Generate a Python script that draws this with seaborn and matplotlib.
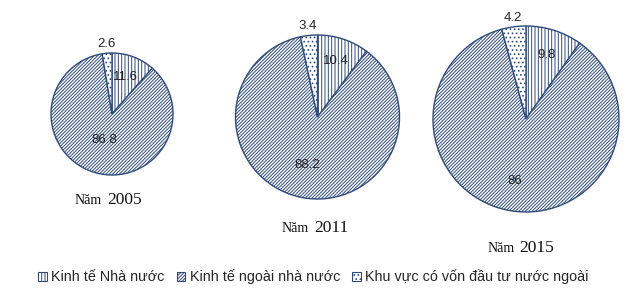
import numpy as np
import matplotlib
matplotlib.use("Agg")
import matplotlib.pyplot as plt
from matplotlib.patches import Patch
import seaborn as sns

# ---- data ----
categories = ["Kinh tế Nhà nước", "Kinh tế ngoài nhà nước", "Khu vực có vốn đầu tư nước ngoài"]
years = ["2005", "2011", "2015"]
values_2005 = [11.6, 86.8, 2.6]
values_2011 = [10.4, 88.2, 3.4]
values_2015 = [9.8, 86, 4.2]
value_labels_2005 = ["11.6", "86.8", "2.6"]
value_labels_2011 = ["10.4", "88.2", "3.4"]
value_labels_2015 = ["9.8", "86", "4.2"]

# ---- style ----
sns.set_theme(style="white")
plt.rcParams["font.family"] = ["Liberation Sans", "DejaVu Sans"]
plt.rcParams["hatch.linewidth"] = 0.7
EDGE = "#2F4B7C"
HATCHES = ["|||||", "//////////", "...."]

W, H = 633, 298
fig = plt.figure(figsize=(W / 100, H / 100), dpi=100)
fig.patch.set_facecolor("white")

# layout (pixel centers / radii) and label radial fractions
pies = [
    dict(vals=values_2005, labs=value_labels_2005, year=years[0], cx=112, cy=114, r=61,
         lr=[0.64, 0.45, 1.15], tx=(75, 107, 204)),
    dict(vals=values_2011, labs=value_labels_2011, year=years[1], cx=317.5, cy=117, r=82,
         lr=[0.72, 0.6, 1.12], tx=(282, 314, 232)),
    dict(vals=values_2015, labs=value_labels_2015, year=years[2], cx=526, cy=119, r=93,
         lr=[0.72, 0.68, 1.1], tx=(488, 519, 252)),
]

for p in pies:
    cx, cy, r = p["cx"], p["cy"], p["r"]
    ax = fig.add_axes([(cx - r) / W, (H - (cy + r)) / H, 2 * r / W, 2 * r / H])
    wedges, _ = ax.pie(p["vals"], startangle=90, counterclock=False, radius=1,
                       colors=["white"] * 3,
                       wedgeprops=dict(edgecolor=EDGE, linewidth=1.0))
    for w, h in zip(wedges, HATCHES):
        w.set_hatch(h)
    for w, lab, lr in zip(wedges, p["labs"], p["lr"]):
        ang = np.deg2rad((w.theta1 + w.theta2) / 2)
        ax.text(lr * np.cos(ang), lr * np.sin(ang), lab, ha="center", va="center",
                fontsize=9.5, color="#222222")
    ax.set_xlim(-1, 1)
    ax.set_ylim(-1, 1)
    ax.set_axis_off()
    x1, x2, yb = p["tx"]
    fig.text(x1 / W, 1 - yb / H, "Năm", ha="left", va="baseline",
             fontsize=10, family=["Liberation Serif", "DejaVu Serif"], color="#111111")
    fig.text(x2 / W, 1 - yb / H, p["year"], ha="left", va="baseline",
             fontsize=12.5, family=["Liberation Serif", "DejaVu Serif"], color="#111111")

handles = [Patch(facecolor="white", edgecolor=EDGE, hatch=h, linewidth=0.8) for h in HATCHES]
fig.legend(handles, categories, loc="center", bbox_to_anchor=(313.5 / W, 1 - 277 / H),
           ncol=3, frameon=False, fontsize=10.4, handlelength=0.6, handleheight=0.6,
           handletextpad=0.3, columnspacing=0.85, borderpad=0)

fig.savefig("out.png", dpi=100, facecolor="white")
